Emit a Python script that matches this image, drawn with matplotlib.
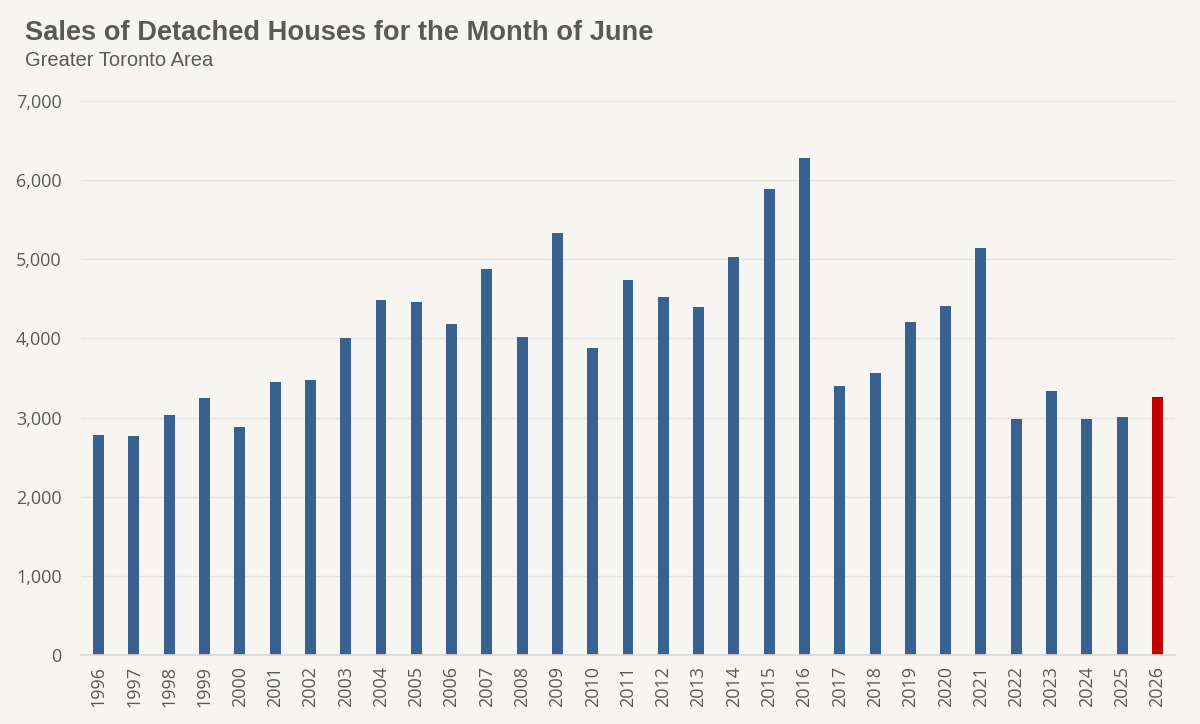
import matplotlib.pyplot as plt
import numpy as np

# June detached house sales, Greater Toronto Area
years = [str(y) for y in range(1996, 2027)]
sales = [2780, 2765, 3034, 3249, 2879, 3447, 3481, 4011, 4486, 4455,
         4177, 4874, 4019, 5332, 3885, 4744, 4520, 4403, 5025, 5893,
         6275, 3401, 3561, 4213, 4415, 5148, 2976, 3342, 2984, 3009,
         3254]
highlight_year = "2026"

bg = "#f7f5f2"
blue = "#386190"
red = "#c00000"
grey_txt = "#595959"

fig = plt.figure(figsize=(12, 7.24), dpi=100)
fig.patch.set_facecolor(bg)
ax = fig.add_axes([0.0675, 0.0953, 0.9117, 0.7652])
ax.set_facecolor(bg)

x = np.arange(len(years))
colors = [red if y == highlight_year else blue for y in years]
ax.bar(x, sales, width=0.31, color=colors, zorder=3)

ax.set_xlim(-0.5, len(years) - 0.5)
ax.set_ylim(0, 7000)
ax.set_yticks(np.arange(0, 7001, 1000))
ax.set_yticklabels([f"{v:,}" for v in range(0, 7001, 1000)],
                   fontsize=13, color=grey_txt, family="Open Sans")
ax.set_xticks(x)
ax.set_xticklabels(years, rotation=90, fontsize=13, color=grey_txt,
                   family="Open Sans")
ax.tick_params(axis="y", length=0, pad=14)
ax.tick_params(axis="x", length=0, pad=8)

ax.grid(axis="y", color="#e4e2df", linewidth=1, zorder=0)
for s in ["top", "right", "left"]:
    ax.spines[s].set_visible(False)
ax.spines["bottom"].set_color("#d9d9d9")
ax.spines["bottom"].set_linewidth(1.2)
ax.spines["bottom"].set_zorder(4)

fig.text(25 / 1200, 1 - 33 / 724, "Sales of Detached Houses for the Month of June",
         fontsize=19.6, fontweight="bold", color=grey_txt,
         family="Liberation Sans", va="center", ha="left")
fig.text(25 / 1200, 1 - 60 / 724, "Greater Toronto Area",
         fontsize=14.5, color=grey_txt, family="Liberation Sans",
         va="center", ha="left")

plt.savefig("out.png", dpi=100, facecolor=bg)
